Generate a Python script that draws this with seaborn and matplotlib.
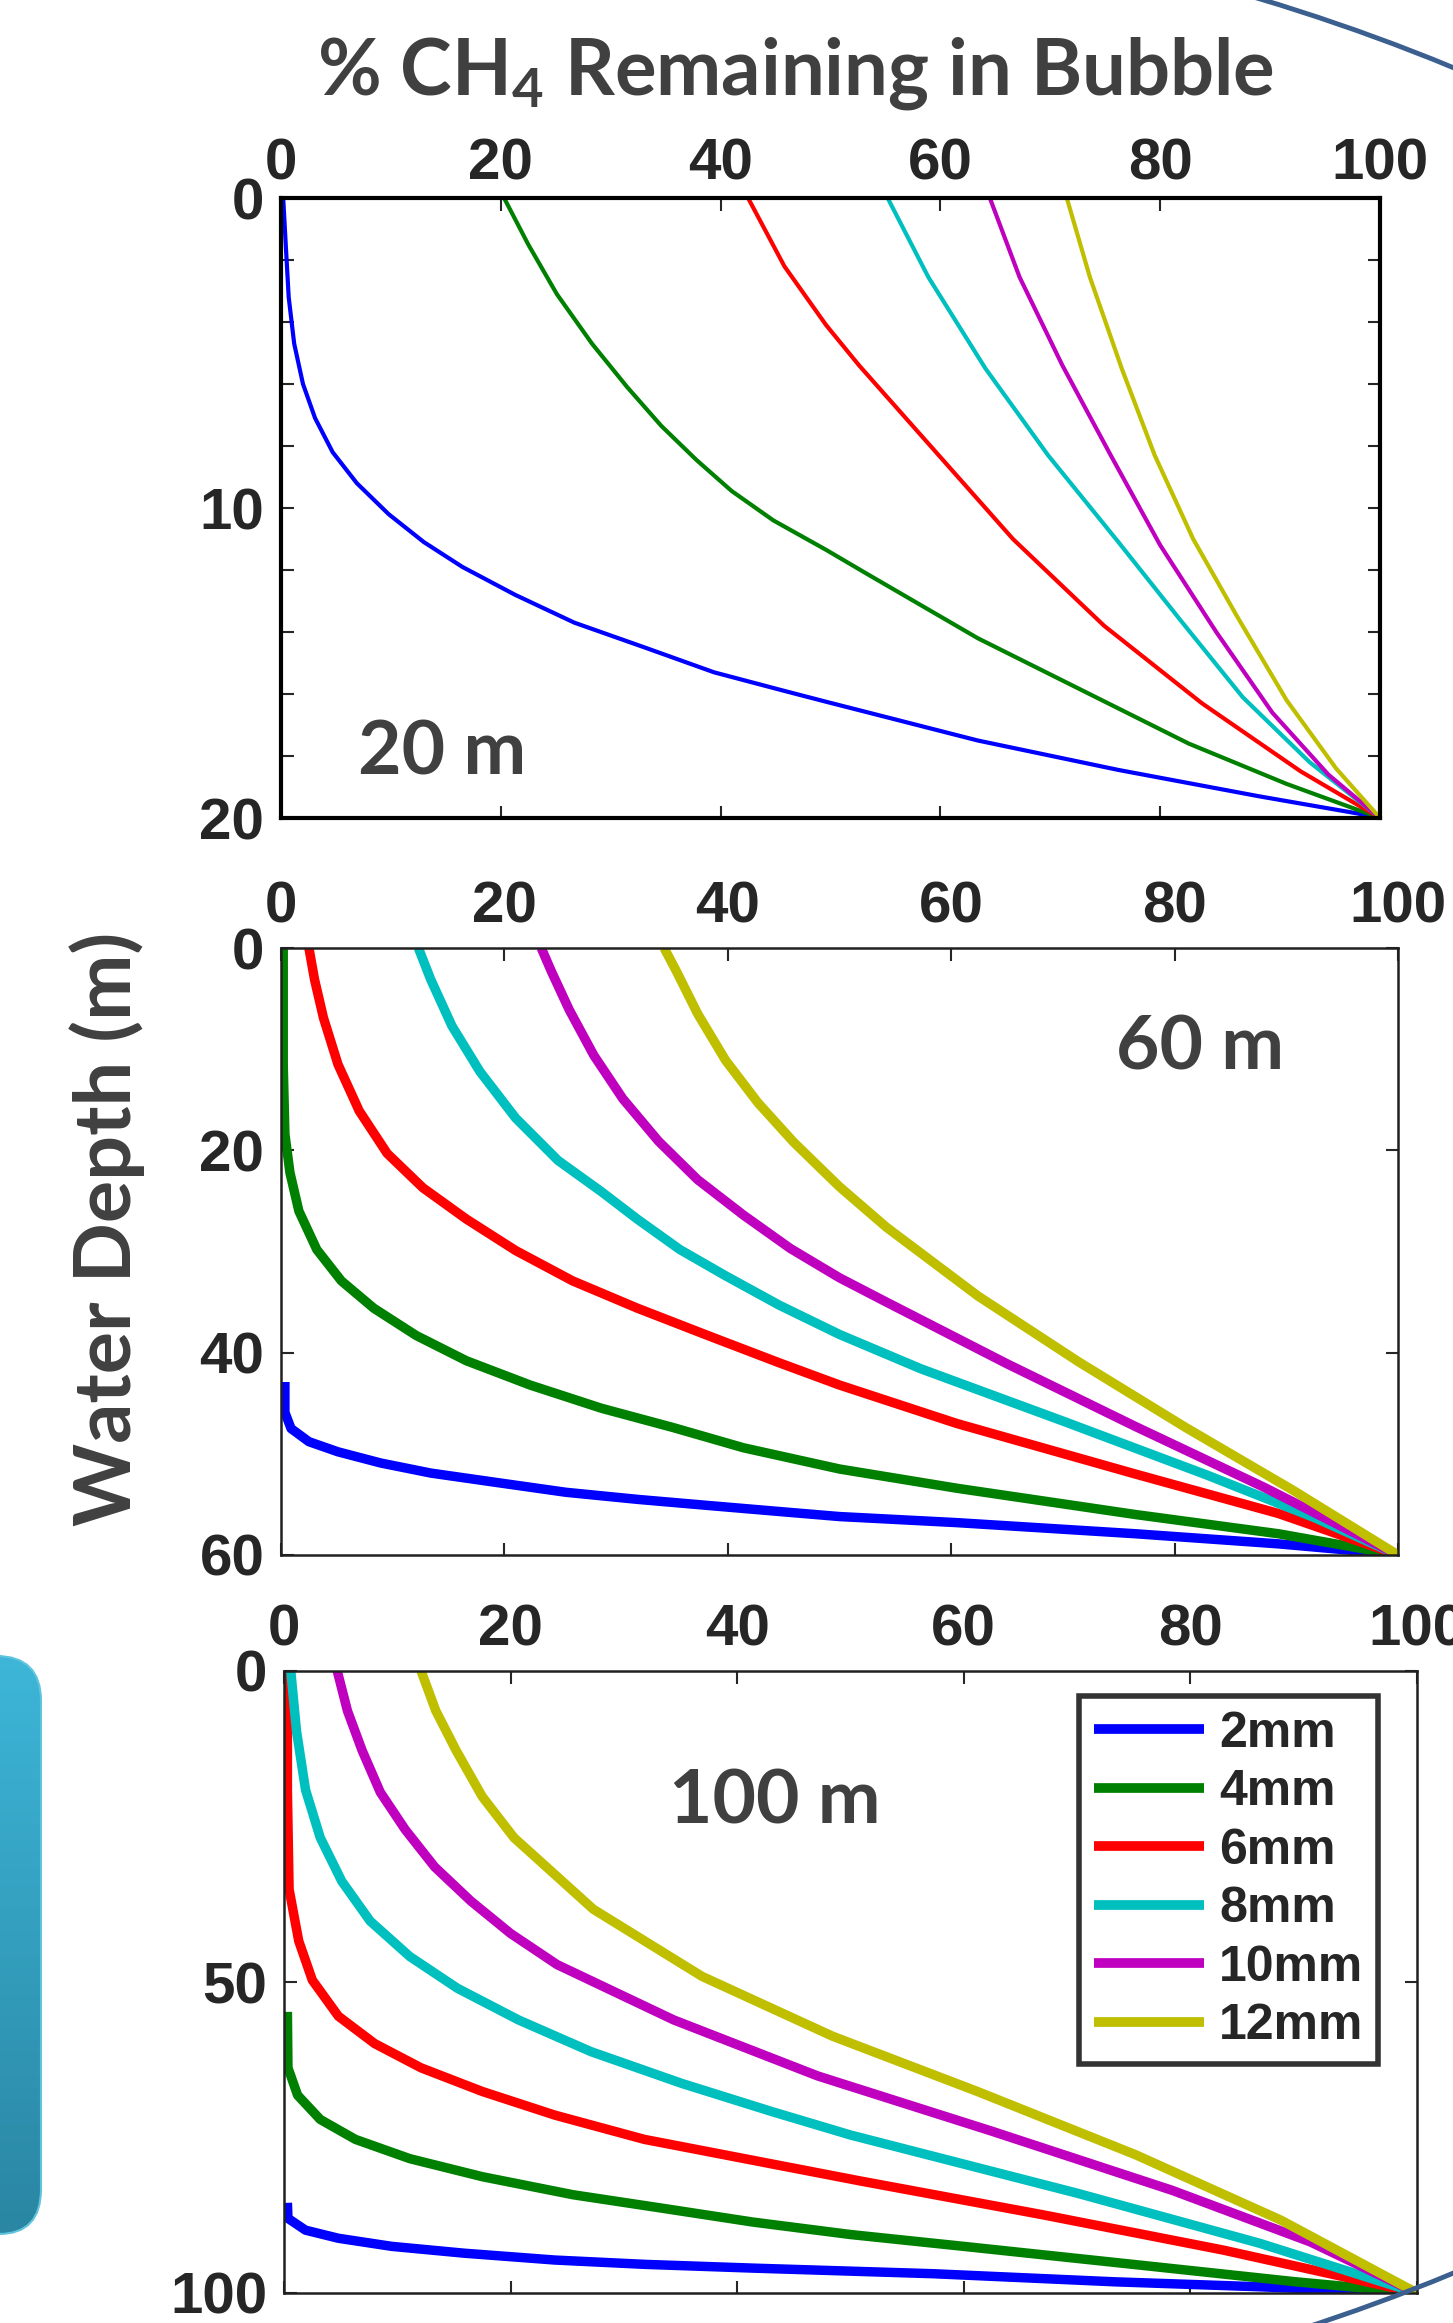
import numpy as np
import pandas as pd
import seaborn as sns
import matplotlib
matplotlib.use("Agg")
import matplotlib.pyplot as plt
from matplotlib.patches import Ellipse, FancyBboxPatch
from matplotlib import font_manager

# bubble sizes and matlab-style colours
sizes = ["2mm", "4mm", "6mm", "8mm", "10mm", "12mm"]
colors = ["#0000ff", "#008000", "#ff0000", "#00bfbf", "#bf00bf", "#bfbf00"]

# ---- 20 m release: % CH4 remaining vs depth (m)
x20_2 = [0.2, 0.4, 0.7, 1.2, 2.0, 3.1, 4.7, 6.9, 9.8, 13.0, 16.5, 21.3, 26.7, 33.1, 39.4, 45.8, 49.6, 63.4, 76.2, 89.0, 97.9, 100]
z20_2 = [0, 1.3, 3.2, 4.7, 6.0, 7.1, 8.2, 9.2, 10.2, 11.1, 11.9, 12.8, 13.7, 14.5, 15.3, 15.9, 16.25, 17.5, 18.45, 19.3, 19.85, 20]
x20_4 = [20.3, 22.5, 25.1, 28.3, 31.5, 34.6, 37.8, 41.0, 44.8, 49.6, 53.2, 63.4, 73.0, 82.6, 91.5, 100]
z20_4 = [0, 1.5, 3.1, 4.7, 6.1, 7.35, 8.45, 9.45, 10.4, 11.35, 12.1, 14.2, 15.9, 17.6, 18.9, 20]
x20_6 = [42.5, 45.8, 49.6, 52.6, 59.6, 66.6, 74.9, 83.8, 92.8, 100]
z20_6 = [0, 2.2, 4.1, 5.4, 8.2, 11.0, 13.8, 16.3, 18.5, 20]
x20_8 = [55.2, 58.9, 64.1, 69.8, 76.2, 81.8, 87.5, 93.6, 100]
z20_8 = [0, 2.55, 5.5, 8.3, 11.1, 13.6, 16.1, 18.2, 20]
x20_10 = [64.5, 67.2, 71.1, 75.5, 80.0, 85.1, 90.2, 95.3, 100]
z20_10 = [0, 2.55, 5.4, 8.3, 11.2, 14.0, 16.6, 18.6, 20]
x20_12 = [71.5, 73.6, 76.5, 79.5, 83.0, 87.0, 91.5, 96.0, 100]
z20_12 = [0, 2.55, 5.5, 8.3, 11.0, 13.5, 16.2, 18.4, 20]

# ---- 60 m release
x60_2 = [0.35, 0.35, 0.9, 2.5, 5.1, 8.9, 13.4, 19.1, 25.5, 31.9, 38.2, 44.6, 50.0, 60.5, 76.5, 89.3, 99.5, 100]
z60_2 = [42.9, 45.9, 47.5, 48.8, 49.8, 50.9, 51.9, 52.8, 53.8, 54.5, 55.1, 55.7, 56.2, 56.8, 57.9, 58.9, 59.9, 60]
x60_4 = [0.2, 0.2, 0.35, 0.8, 1.6, 3.2, 5.4, 8.3, 12.1, 16.6, 22.3, 28.7, 35.1, 41.4, 50.0, 60.5, 76.5, 89.3, 100]
z60_4 = [0, 11.5, 18.4, 22.2, 26.0, 29.8, 32.9, 35.6, 38.3, 40.8, 43.2, 45.5, 47.4, 49.4, 51.5, 53.4, 56.0, 57.9, 60]
x60_6 = [2.5, 3.0, 3.8, 5.1, 7.0, 9.5, 12.7, 16.6, 21.0, 26.1, 31.9, 38.2, 44.6, 50.0, 60.5, 76.5, 89.3, 100]
z60_6 = [0, 3.1, 6.9, 11.5, 16.1, 20.3, 23.7, 26.8, 29.9, 32.9, 35.6, 38.3, 41.0, 43.2, 47.0, 52.0, 55.9, 60]
x60_8 = [12.3, 13.4, 15.3, 17.8, 21.0, 24.8, 28.7, 31.9, 35.7, 39.8, 44.6, 50.0, 57.3, 70.1, 82.9, 92.5, 100]
z60_8 = [0, 3.1, 7.7, 12.2, 16.8, 21.0, 24.1, 26.8, 29.8, 32.4, 35.3, 38.2, 41.6, 46.8, 52.1, 56.3, 60]
x60_10 = [23.3, 24.2, 25.8, 28.0, 30.6, 33.8, 37.3, 41.4, 45.6, 50.0, 54.2, 65.0, 76.5, 88.0, 100]
z60_10 = [0, 2.3, 6.1, 10.6, 14.9, 19.1, 22.9, 26.4, 29.7, 32.6, 35.0, 41.1, 47.3, 53.3, 60]
x60_12 = [34.3, 35.4, 37.3, 39.8, 42.7, 45.9, 50.0, 54.2, 62.4, 71.4, 81.0, 90.6, 100]
z60_12 = [0, 2.3, 6.5, 11.1, 15.3, 19.2, 23.6, 27.6, 34.4, 40.9, 47.4, 53.6, 60]

# ---- 100 m release
x100_2 = [0.3, 0.35, 1.9, 4.8, 9.5, 15.9, 23.9, 31.9, 41.4, 57.3, 73.3, 86.1, 97.0, 100]
z100_2 = [85.5, 88.0, 89.9, 91.2, 92.5, 93.6, 94.7, 95.4, 96.0, 96.9, 98.2, 99.0, 99.8, 100]
x100_4 = [0.3, 0.35, 1.2, 3.2, 6.3, 11.1, 17.5, 25.5, 33.5, 41.4, 50.0, 60.5, 76.5, 89.3, 100]
z100_4 = [54.8, 63.8, 68.2, 72.1, 75.3, 78.4, 81.3, 84.2, 86.4, 88.6, 90.6, 92.6, 95.7, 98.2, 100]
x100_6 = [0.3, 0.3, 0.45, 1.3, 2.5, 4.8, 8.0, 12.1, 17.5, 23.9, 31.8, 50.9, 66.9, 82.9, 100]
z100_6 = [0, 19.1, 35.1, 43.4, 49.7, 55.5, 59.9, 63.8, 67.6, 71.4, 75.3, 82.0, 87.4, 93.1, 100]
x100_8 = [0.6, 1.1, 1.9, 3.2, 5.1, 7.6, 11.1, 15.3, 20.7, 27.1, 35.1, 43.0, 50.0, 70.1, 86.1, 100]
z100_8 = [0, 9.6, 19.1, 26.8, 33.8, 40.2, 45.9, 51.0, 56.1, 61.2, 66.3, 70.8, 74.6, 84.0, 92.0, 100]
x100_10 = [4.7, 5.6, 6.9, 8.5, 10.7, 13.3, 16.5, 20.0, 24.1, 34.4, 47.1, 62.5, 78.4, 90.6, 100]
z100_10 = [0, 6.4, 12.8, 19.5, 25.5, 31.5, 37.0, 42.2, 47.2, 56.1, 65.1, 74.0, 83.5, 91.8, 100]
x100_12 = [12.1, 13.4, 15.2, 17.5, 20.3, 27.3, 36.9, 48.4, 61.2, 75.2, 88.0, 100]
z100_12 = [0, 6.4, 12.8, 20.2, 26.8, 38.3, 49.1, 58.7, 67.6, 77.8, 88.3, 100]

xticks = [0, 20, 40, 60, 80, 100]

def make_df(xs, zs):
    frames = []
    for s, x, z in zip(sizes, xs, zs):
        frames.append(pd.DataFrame({"pct": x, "depth": z, "size": s}))
    return pd.concat(frames, ignore_index=True)

df20 = make_df([x20_2, x20_4, x20_6, x20_8, x20_10, x20_12],
               [z20_2, z20_4, z20_6, z20_8, z20_10, z20_12])
df60 = make_df([x60_2, x60_4, x60_6, x60_8, x60_10, x60_12],
               [z60_2, z60_4, z60_6, z60_8, z60_10, z60_12])
df100 = make_df([x100_2, x100_4, x100_6, x100_8, x100_10, x100_12],
                [z100_2, z100_4, z100_6, z100_8, z100_10, z100_12])

sns.set_style("white")
plt.rcParams["font.family"] = ["Liberation Sans", "DejaVu Sans"]
plt.rcParams["font.weight"] = "bold"
plt.rcParams["mathtext.fontset"] = "custom"
plt.rcParams["mathtext.rm"] = "Lato"
plt.rcParams["mathtext.bf"] = "Lato:bold"

installed = {f.name for f in font_manager.fontManager.ttflist}
narrow = "Liberation Sans Narrow" if "Liberation Sans Narrow" in installed else "Liberation Sans"

W, H = 1453, 2323
fig = plt.figure(figsize=(W / 100, H / 100), dpi=100)
gray = "#404040"

def px_axes(l, t, r, b):
    return fig.add_axes([l / W, 1 - b / H, (r - l) / W, (b - t) / H])

ax1 = px_axes(281, 198, 1380, 818)
ax2 = px_axes(281, 948, 1398, 1555)
ax3 = px_axes(284, 1671, 1417, 2293)

panels = [
    (ax1, df20, 20, [0, 10, 20], 3.0, narrow, 5),
    (ax2, df60, 60, [0, 20, 40, 60], 6.8, "Liberation Sans", 10),
    (ax3, df100, 100, [0, 50, 100], 6.8, "Liberation Sans", 10),
]

for ax, df, depth, yt, lw, tfont, xpad in panels:
    sns.lineplot(data=df, x="pct", y="depth", hue="size", hue_order=sizes,
                 palette=colors, sort=False, estimator=None, units="size",
                 linewidth=lw, legend=(depth == 100), ax=ax)
    for ln in ax.get_lines():
        ln.set_solid_joinstyle("round")
        ln.set_solid_capstyle("butt")
    ax.set_xlim(0, 100)
    ax.set_ylim(depth, 0)
    ax.set_xlabel("")
    ax.set_ylabel("")
    ax.xaxis.set_ticks_position("both")
    ax.yaxis.set_ticks_position("both")
    ax.tick_params(axis="x", which="both", direction="in", length=9, width=1.5,
                   labeltop=True, labelbottom=False, pad=xpad, labelsize=42)
    ax.tick_params(axis="y", which="both", direction="in", length=9, width=1.5,
                   pad=12, labelsize=42)
    ax.set_xticks(xticks)
    if depth == 20:
        yt_all = list(range(0, 21, 2))
        ax.set_yticks(yt_all)
        ax.set_yticklabels([str(v) if v in yt else "" for v in yt_all])
    else:
        ax.set_yticks(yt)
    for lab in ax.get_xticklabels() + ax.get_yticklabels():
        lab.set_fontfamily(tfont)
        lab.set_fontweight("bold")
    for sp in ax.spines.values():
        sp.set_visible(True)
        sp.set_color("black" if depth == 20 else "#202020")
        sp.set_linewidth(3.0 if depth == 20 else 1.8)

# panel labels
ax1.text(0.147, 0.105, "20 m", transform=ax1.transAxes, ha="center", va="center",
         fontsize=54, color=gray, family="Lato", weight="bold")
ax2.text(0.823, 0.835, "60 m", transform=ax2.transAxes, ha="center", va="center",
         fontsize=54, color=gray, family="Lato", weight="bold")
ax3.text(0.433, 0.790, "100 m", transform=ax3.transAxes, ha="center", va="center",
         fontsize=54, color=gray, family="Lato", weight="bold")

# legend
handles, labels = ax3.get_legend_handles_labels()
for h in handles:
    h.set_linewidth(7)
leg = ax3.legend(handles, labels, loc="upper right", bbox_to_anchor=(0.966, 0.96),
                 borderaxespad=0, frameon=True, fancybox=False, handlelength=2.2,
                 handletextpad=0.3, labelspacing=0.25, borderpad=0.3,
                 prop={"family": "Liberation Sans", "weight": "bold", "size": 36})
leg.get_frame().set_edgecolor("black")
leg.get_frame().set_linewidth(4)

# title and shared y label
fig.text(795 / W, 1 - 74 / H, r"% CH$_\mathbf{4}$ Remaining in Bubble", ha="center", va="center",
         fontsize=56, color=gray, family="Lato", weight="bold")
fig.text(107 / W, 1 - 1229 / H, "Water Depth (m)", ha="center", va="center", rotation=90,
         fontsize=57, color=gray, family="Lato", weight="bold")

# slide decoration: large blue ellipse edge and teal rounded box
fig.add_artist(Ellipse((400 / 981, 1 - 790 / 1568), 2 * 1177 / 981, 2 * 856 / 1568,
                       transform=fig.transFigure, fill=False, edgecolor="#3b5f8f",
                       linewidth=3.5, clip_on=False))
box = FancyBboxPatch((-0.44, 0.89), 0.85, 5.78, boxstyle="round,pad=0,rounding_size=0.45",
                     transform=fig.dpi_scale_trans, facecolor="none", edgecolor="#5ec4de",
                     linewidth=1.5)
fig.add_artist(box)
axg = fig.add_axes([0, 0.0383, 0.0282, 0.2488])
grad = np.linspace(0, 1, 256).reshape(-1, 1)
cmap = matplotlib.colors.LinearSegmentedColormap.from_list("tb", ["#3db6d8", "#2a86a3"])
im = axg.imshow(grad, aspect="auto", cmap=cmap, extent=[0, 1, 0, 1], origin="upper")
im.set_clip_path(box)
axg.set_axis_off()

fig.savefig("out.png", dpi=100)
